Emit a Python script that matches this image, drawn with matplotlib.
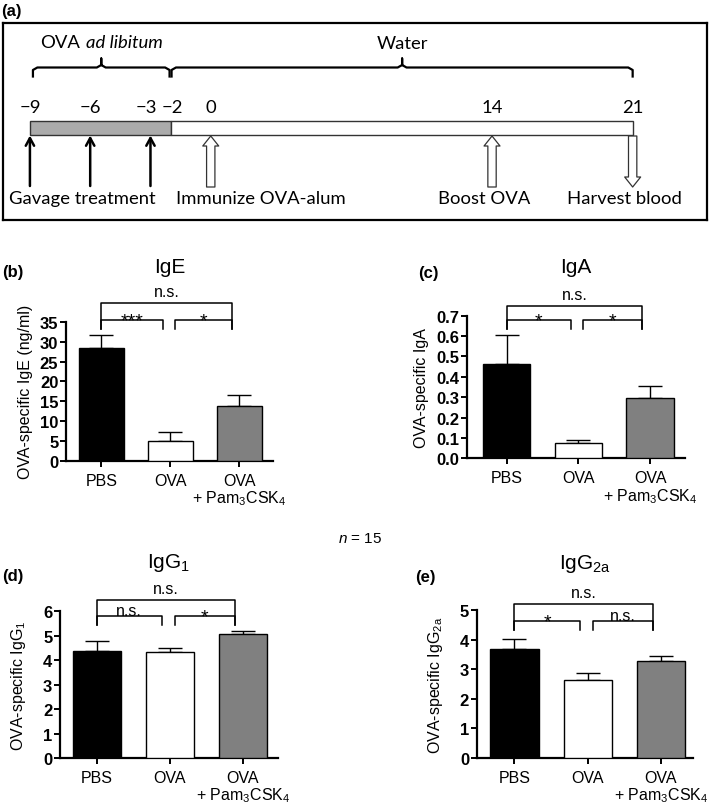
import matplotlib.pyplot as plt
from matplotlib.offsetbox import TextArea, HPacker, AnnotationBbox
import numpy as np

plt.rcParams['font.family'] = ['Liberation Sans', 'DejaVu Sans']
plt.rcParams['mathtext.fontset'] = 'custom'
plt.rcParams['mathtext.rm'] = 'Liberation Sans'
plt.rcParams['mathtext.it'] = 'Liberation Sans:italic'
plt.rcParams['mathtext.bf'] = 'Liberation Sans:bold'

# ---- data: timeline (a) ----
timeline_days = [-9, -6, -3, -2, 0, 14, 21]
gavage_days = [-9, -6, -3]
event_days = [0, 14, 21]
event_labels = ['Immunize OVA-alum', 'Boost OVA', 'Harvest blood']
event_dirs = ['up', 'up', 'down']
phase_start = [-9, -2]
phase_end = [-2, 21]
phase_names = ['OVA', 'Water']

# ---- data: antibody panels ----
groups = ['PBS', 'OVA', 'OVA\n+ Pam$_3$CSK$_4$']
ige_mean = [28.5, 4.9, 13.7]
ige_err = [3.1, 2.4, 2.8]
iga_mean = [0.463, 0.074, 0.298]
iga_err = [0.141, 0.016, 0.055]
igg1_mean = [4.36, 4.32, 5.07]
igg1_err = [0.42, 0.19, 0.12]
igg2a_mean = [3.68, 2.64, 3.27]
igg2a_err = [0.34, 0.22, 0.16]
# significance: PBS vs OVA, OVA vs OVA+Pam, PBS vs OVA+Pam
ige_sig = ['***', '*', 'n.s.']
iga_sig = ['*', '*', 'n.s.']
igg1_sig = ['n.s.', '*', 'n.s.']
igg2a_sig = ['*', 'n.s.', 'n.s.']

bar_colors = ['black', 'white', '#808080']
TL_FONT = ['Lato', 'DejaVu Sans']
TL_SIZE = 13.3
W, H = 709, 812

fig = plt.figure(figsize=(W / 100, H / 100), dpi=100)


def px_axes(left, top, right, bottom):
    return fig.add_axes([left / W, 1 - bottom / H, (right - left) / W, (bottom - top) / H])


# ================= panel (a): timeline =================
ax_a = px_axes(3, 24, 707, 221)
ax_a.set_xlim(-10.34, 24.7)
ax_a.set_ylim(221, 24)
ax_a.set_xticks([])
ax_a.set_yticks([])
for s in ax_a.spines.values():
    s.set_linewidth(1.6)

widths = [e - s for s, e in zip(phase_start, phase_end)]
ax_a.barh(129, widths, left=phase_start, height=14.3, color=['#ababab', 'white'],
          edgecolor='#333333', linewidth=1)

# small nudges so the -3 / -2 labels don't collide
day_nudge = {-3: -3, -2: 1.5}
for d in timeline_days:
    lab = str(d).replace('-', '\u2212')
    ax_a.annotate(lab, xy=(d, 108), xytext=(day_nudge.get(d, 0), 0), textcoords='offset points',
                  ha='center', va='center', fontsize=TL_SIZE, family=TL_FONT)


def brace(ax, x0, x1, y):
    xm = (x0 + x1) / 2
    r = 0.22
    xs = [x0, x0, x0 + r, xm - r, xm, xm, xm, xm + r, x1 - r, x1, x1]
    ys = [y + 9, y + 2.5, y, y, y - 2.5, y - 9, y - 2.5, y, y, y + 2.5, y + 9]
    ax.plot(xs, ys, color='black', lw=1.6, solid_joinstyle='round')
    return xm


xm0 = brace(ax_a, phase_start[0] + 0.15, phase_end[0] - 0.05, 68.5)
xm1 = brace(ax_a, phase_start[1] + 0.05, phase_end[1], 68.5)

hp = HPacker(children=[TextArea(phase_names[0], textprops=dict(size=TL_SIZE, family=TL_FONT)),
                       TextArea('ad libitum', textprops=dict(size=TL_SIZE, family=TL_FONT, style='italic'))],
             sep=4, pad=0, align='baseline')
ax_a.add_artist(AnnotationBbox(hp, (xm0, 43), frameon=False, box_alignment=(0.5, 0.5), pad=0))
ax_a.text(xm1, 44, phase_names[1], ha='center', va='center', fontsize=TL_SIZE, family=TL_FONT)

for d in gavage_days:
    ax_a.annotate('', xy=(d, 136.5), xytext=(d, 187),
                  arrowprops=dict(arrowstyle='->,head_length=0.55,head_width=0.3',
                                  lw=1.8, color='black', shrinkA=0, shrinkB=0))
ax_a.annotate('Gavage treatment', xy=(np.mean(gavage_days), 199), xytext=(-6, 0),
              textcoords='offset points', ha='center', va='center', fontsize=TL_SIZE, family=TL_FONT)

label_shift = [36, -6, -6]
for d, lab, dr, sh in zip(event_days, event_labels, event_dirs, label_shift):
    tip, tail = (137, 188) if dr == 'up' else (188, 137)
    ax_a.annotate('', xy=(d, tip), xytext=(d, tail),
                  arrowprops=dict(arrowstyle='simple,head_length=0.72,head_width=1.15,tail_width=0.6',
                                  mutation_scale=10, fc='white', ec='#333333', lw=0.9,
                                  shrinkA=0, shrinkB=0))
    ax_a.annotate(lab, xy=(d, 199), xytext=(sh, 0), textcoords='offset points',
                  ha='center', va='center', fontsize=TL_SIZE, family=TL_FONT)

fig.text(1 / W, 1 - 11.5 / H, '(a)', fontsize=12, fontweight='bold', va='center', ha='left')


# ================= bar panels =================
def bar_panel(box, xlim, ylim, yticks, fmt, means, errs, title, ylabel, sig,
              levels, title_pad, letter, letter_xy, labelpad):
    ax = px_axes(*box)
    x = np.arange(len(groups))
    ax.bar(x, means, width=0.66, color=bar_colors, edgecolor='black', linewidth=1, zorder=3)
    ax.errorbar(x, means, yerr=[np.zeros(len(errs)), errs], fmt='none', ecolor='black',
                elinewidth=1, capsize=8.6, capthick=1, zorder=2)
    ax.set_xlim(*xlim)
    ax.set_ylim(*ylim)
    ax.set_yticks(yticks)
    ax.set_yticklabels([fmt.format(v) for v in yticks], fontweight='bold', fontsize=12)
    ax.set_xticks(x)
    ax.set_xticklabels(groups, fontsize=11.5, linespacing=1.05)
    for s in ['top', 'right']:
        ax.spines[s].set_visible(False)
    for s in ['left', 'bottom']:
        ax.spines[s].set_linewidth(1.6)
    ax.tick_params(axis='y', length=4, width=1.4, pad=1.5)
    ax.tick_params(axis='x', length=4, width=1.4, pad=4.5)
    ax.set_ylabel(ylabel, fontsize=11.5, labelpad=labelpad)
    ax.set_title(title, fontsize=15, pad=title_pad)

    short_y, bottom_y, long_y = levels
    pairs = [(0, 1, short_y), (1, 2, short_y), (0, 2, long_y)]
    for (i, j, yl), lab in zip(pairs, sig):
        x0 = i + (0.07 if i > 0 else 0.0)
        x1 = j - 0.11
        ax.plot([x0, x0, x1, x1], [bottom_y, yl, yl, bottom_y], color='black', lw=1.1,
                clip_on=False, zorder=4)
        if lab == 'n.s.':
            off = 5 if yl == long_y else 1.2
            ax.annotate(lab, xy=((x0 + x1) / 2, yl), xytext=(0, off), textcoords='offset points',
                        ha='center', va='baseline', fontsize=11.5, annotation_clip=False)
        else:
            ax.annotate(lab, xy=((x0 + x1) / 2, yl), xytext=(0, -3.8), textcoords='offset points',
                        ha='center', va='baseline', fontsize=14, annotation_clip=False)
    fig.text(letter_xy[0] / W, 1 - letter_xy[1] / H, letter, fontsize=12,
             fontweight='bold', ha='left', va='center')
    return ax


bar_panel((66, 323, 273, 461.7), (-0.514, 2.486), (0, 35), np.arange(0, 36, 5), '{:g}',
          ige_mean, ige_err, 'IgE', 'OVA-specific IgE (ng/ml)', ige_sig,
          (35.5, 33.2, 39.8), 36, '(b)', (2, 273), 5)
bar_panel((466.7, 316.7, 685, 459.3), (-0.558, 2.487), (0, 0.7), np.arange(0, 0.71, 0.1), '{:.1f}',
          iga_mean, iga_err, 'IgA', 'OVA-specific IgA', iga_sig,
          (0.679, 0.635, 0.749), 31.5, '(c)', (418, 274), 5)
bar_panel((60, 612.3, 278, 759), (-0.504, 2.482), (0, 6), np.arange(0, 7, 1), '{:g}',
          igg1_mean, igg1_err, 'IgG$_1$', 'OVA-specific IgG$_1$', igg1_sig,
          (5.80, 5.44, 6.46), 31.7, '(d)', (2, 576), 11)
bar_panel((476.7, 611, 693, 759), (-0.516, 2.437), (0, 5), np.arange(0, 6, 1), '{:g}',
          igg2a_mean, igg2a_err, 'IgG$_\\mathrm{2a}$', 'OVA-specific IgG$_\\mathrm{2a}$', igg2a_sig,
          (4.62, 4.33, 5.20), 30, '(e)', (415, 577.5), 11)

fig.text(360 / W, 1 - 539 / H, '$n$ = 15', fontsize=11, ha='center', va='center')

fig.savefig('out.png', dpi=100)
